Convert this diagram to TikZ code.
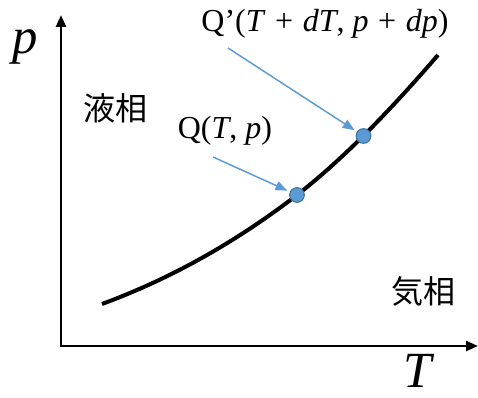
\documentclass[tikz,border=0pt]{standalone}
\usepackage{fontspec}
\setmainfont{Liberation Serif}
\newfontfamily\cjk{Noto Sans CJK JP}
\usetikzlibrary{arrows.meta}
\definecolor{dotblue}{HTML}{5B9BD5}
\definecolor{dotedge}{HTML}{41719C}
\newcommand{\vr}[1]{\textit{#1}}
\newcommand{\pls}{\hspace{0.3em}+\hspace{0.3em}}
\tikzset{
  axis/.style={line width=1.9pt,-{Triangle[length=9pt,width=7.5pt]}},
  curveline/.style={line width=3pt},
  dot/.style={circle,fill=dotblue,draw=dotedge,line width=0.8pt,minimum size=11pt,inner sep=0pt},
  pointer/.style={draw=dotblue,line width=1.1pt,-{Triangle[length=9pt,width=7pt]},shorten >=2pt},
  lbl/.style={font=\fontsize{24}{28}\selectfont,inner sep=0pt},
  axlbl/.style={font=\fontsize{38}{42}\selectfont\itshape,inner sep=0pt}
}
\begin{document}
\begin{tikzpicture}[x=0.75pt,y=-0.75pt]
\useasboundingbox (0,0) rectangle (478,398);
\coordinate (O) at (61,346);
\coordinate (Ytop) at (61,15);
\coordinate (Xend) at (478,346);
\draw[axis] ([yshift=-0.9pt]O) -- (Ytop);
\draw[axis] ([xshift=-0.9pt]O) -- (Xend);
\coordinate (c0) at (102,304);
\coordinate (c1) at (297,195);
\coordinate (c2) at (438,55);
\draw[curveline] (c0) .. controls (167,280) and (232,245) .. (c1)
                      .. controls (344,158.5) and (391,109.5) .. (c2);
\node[dot] (Q) at (297,195) {};
\node[dot] (Qp) at (363.5,136) {};
\coordinate (a1) at (213,157);
\coordinate (a2) at (228,48);
\draw[pointer] (a1) -- (Q);
\draw[pointer] (a2) -- (Qp);
\node[axlbl,anchor=base] (plab) at (25,54) {p};
\node[axlbl,anchor=base] (Tlab) at (418,388) {T};
\node[lbl] (liq) at (115,108) {\cjk 液相};
\node[lbl] (gas) at (423,291) {\cjk 気相};
\node[lbl] (qlab) at (225,131) {Q(\vr{T}, \vr{p})};
\node[lbl] (qplab) at (325,24) {Q’(\vr{T}\pls\vr{dT}, \vr{p}\pls\vr{dp})};
\end{tikzpicture}
\end{document}
